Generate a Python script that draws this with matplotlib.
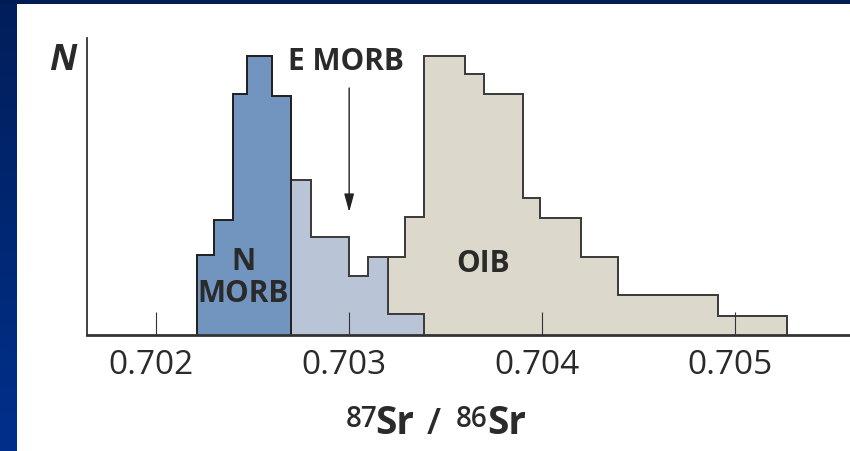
import numpy as np
import matplotlib
matplotlib.use("Agg")
import matplotlib.pyplot as plt
from matplotlib.transforms import ScaledTranslation

# ---------------- data ----------------
nmorb_edges = [0.70221, 0.70230, 0.70240, 0.70247, 0.70260, 0.70270]
nmorb_counts = [4.0, 5.75, 12.05, 13.95, 11.95]

emorb_edges = [0.70270, 0.70280, 0.70300, 0.70310, 0.70320, 0.70339]
emorb_counts = [7.75, 4.9, 2.95, 3.9, 1.05]

oib_edges = [0.70320, 0.70329, 0.70339, 0.70360, 0.70370, 0.70390,
             0.70399, 0.70420, 0.70439, 0.70491, 0.70527]
oib_counts = [3.9, 5.9, 13.95, 13.05, 12.05, 6.85, 5.85, 3.9, 2.0, 0.95]

xticks = [0.702, 0.703, 0.704, 0.705]
xtick_labels = ["0.702", "0.703", "0.704", "0.705"]

# ---------------- style ----------------
W, H, DPI = 850, 451, 100
plt.rcParams['font.family'] = ['Open Sans', 'DejaVu Sans']

fig = plt.figure(figsize=(W / DPI, H / DPI), dpi=DPI, facecolor='white')

# background frame (dark blue top band, gradient left band)
bg = fig.add_axes([0, 0, 1, 1], zorder=-10)
bg.set_axis_off()
bg.set_xlim(0, W)
bg.set_ylim(H, 0)
grad = np.linspace(0, 1, 256).reshape(-1, 1)
top_c = np.array([0, 30, 90]) / 255
bot_c = np.array([0, 48, 140]) / 255
img = top_c[None, None, :] * (1 - grad[:, :, None]) + bot_c[None, None, :] * grad[:, :, None]
bg.imshow(img, extent=[0, 16.5, H, 0], aspect='auto')
bg.add_patch(plt.Rectangle((0, 0), W, 3.5, color='#001c55', lw=0))

ax_left, ax_right = 87, 850
ax_top, ax_bot = 38, 335
ax = fig.add_axes([ax_left / W, 1 - ax_bot / H, (ax_right - ax_left) / W, (ax_bot - ax_top) / H])
ax.set_facecolor('none')

edge = '#3c3c3c'
ax.stairs(oib_counts, oib_edges, fill=True, facecolor='#ddd8cc', edgecolor=edge, lw=1.3, zorder=1.0)
ax.stairs(oib_counts, oib_edges, fill=False, color=edge, lw=1.3, zorder=1.01)
ax.stairs(emorb_counts, emorb_edges, fill=True, facecolor='#b9c4d7', edgecolor=edge, lw=1.3, zorder=1.1)
ax.stairs(emorb_counts, emorb_edges, fill=False, color=edge, lw=1.3, zorder=1.11)
ax.stairs(nmorb_counts, nmorb_edges, fill=True, facecolor='#7195be', edgecolor=edge, lw=1.3, zorder=1.2)
ax.stairs(nmorb_counts, nmorb_edges, fill=False, color='#222222', lw=1.4, zorder=1.21)

ax.set_xlim(0.7016422, 0.705594)
ax.set_ylim(0, 14.85)

for s in ['top', 'right']:
    ax.spines[s].set_visible(False)
ax.spines['left'].set_color('#333333')
ax.spines['left'].set_linewidth(1.3)
ax.spines['bottom'].set_color('#333333')
ax.spines['bottom'].set_linewidth(2.0)

ax.set_xticks(xticks)
ax.set_xticklabels(xtick_labels)
ax.set_yticks([])
ax.tick_params(axis='x', direction='in', length=16.5, width=0.8, color='#333333',
               labelsize=24, labelcolor='#2a2a2a', pad=10)
for lab in ax.get_xticklabels():
    lab.set_transform(lab.get_transform() + ScaledTranslation(-0.05, 0, fig.dpi_scale_trans))

# labels
txt = dict(color='#2a2a2a', fontweight='bold', fontsize=21.5, ha='center', va='baseline')
ax.text(0.70245, 3.25, "N", **txt)
ax.text(0.70245, 1.65, "MORB", **txt)
ax.text(0.703693, 3.15, "OIB", **txt)
ax.text(0.702983, 13.25, "E MORB", **txt)

ax.annotate("", xy=(0.70300, 6.15), xytext=(0.70300, 12.35),
            arrowprops=dict(arrowstyle='-|>,head_length=1.1,head_width=0.3',
                            color='#222222', lw=1.0, shrinkA=0, shrinkB=0))

fig.text(63 / W, 1 - 70 / H, "N", fontsize=26, fontweight='bold', fontstyle='italic',
         color='#2a2a2a', ha='center', va='baseline')

# x-axis label 87Sr / 86Sr built from pieces
lab_pieces = [("87", 346, 427, 20, 'semibold'),
              ("Sr", 375, 434, 28, 'bold'),
              ("/", 427, 434, 26, 'semibold'),
              ("86", 456, 427, 20, 'semibold'),
              ("Sr", 487, 434, 28, 'bold')]
for s, px, py, fs, fw in lab_pieces:
    fig.text(px / W, 1 - py / H, s, fontsize=fs, fontweight=fw, color='#2a2a2a',
             ha='left', va='baseline')

fig.savefig("out.png", dpi=DPI, facecolor='white')
